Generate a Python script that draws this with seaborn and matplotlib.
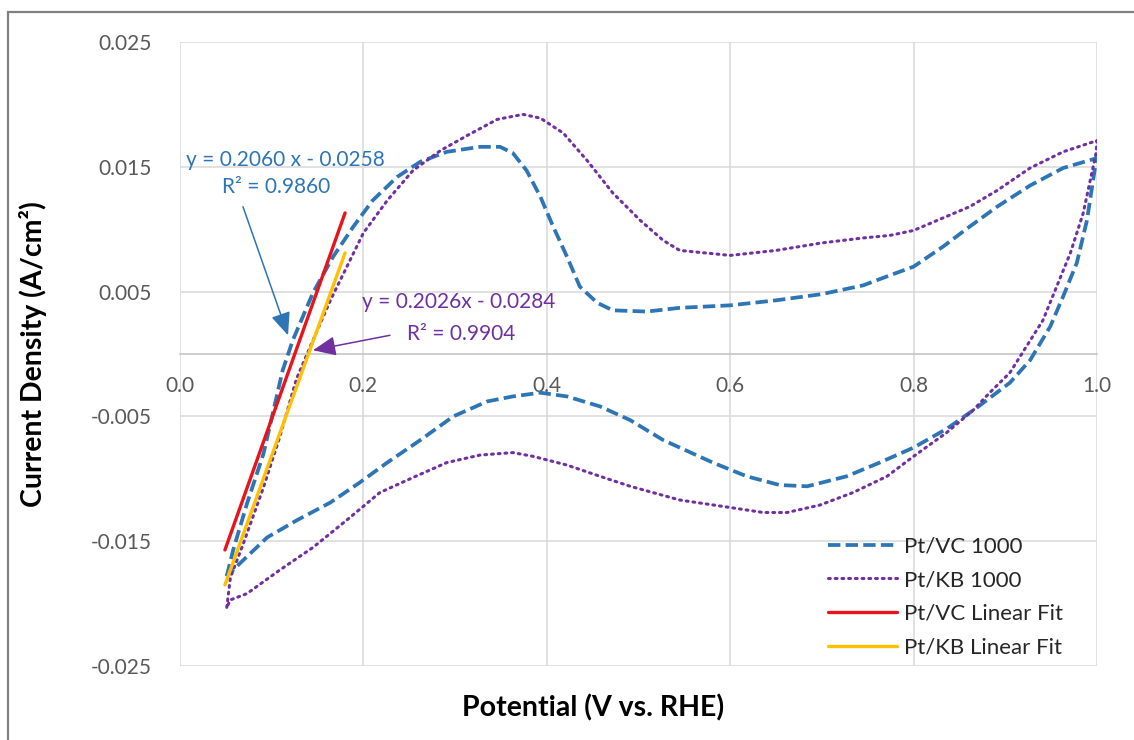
import numpy as np
import pandas as pd
import matplotlib as mpl
mpl.use("Agg")
import matplotlib.pyplot as plt
import seaborn as sns
from matplotlib.patches import Rectangle

# Pt/VC 1000 cycle (anodic sweep then cathodic sweep)
vc_x = [0.051, 0.058, 0.073, 0.091, 0.112, 0.123, 0.145, 0.167, 0.189, 0.21, 0.237, 0.262,
        0.291, 0.327, 0.349, 0.363, 0.378, 0.393, 0.407, 0.422, 0.436, 0.455, 0.472, 0.509,
        0.545, 0.60, 0.65, 0.70, 0.745, 0.774, 0.80, 0.832, 0.861, 0.891, 0.927, 0.963, 1.0,
        0.998, 0.989, 0.978, 0.963, 0.949, 0.927, 0.905, 0.869, 0.836, 0.80, 0.763, 0.727,
        0.684, 0.654, 0.618, 0.581, 0.527, 0.491, 0.458, 0.422, 0.393, 0.363, 0.335, 0.298,
        0.262, 0.226, 0.196, 0.164, 0.128, 0.095, 0.065, 0.051]
vc_y = [-0.0178, -0.0157, -0.0120, -0.0080, -0.0013, 0.0011, 0.0049, 0.0078, 0.0102, 0.0123,
        0.0142, 0.0154, 0.0162, 0.0166, 0.0166, 0.0161, 0.0147, 0.0126, 0.0102, 0.0078,
        0.0054, 0.0041, 0.0035, 0.0034, 0.0037, 0.0039, 0.0043, 0.0048, 0.0055, 0.0063,
        0.0070, 0.0086, 0.0102, 0.0118, 0.0135, 0.0149, 0.0157,
        0.0150, 0.0107, 0.0073, 0.0046, 0.0022, -0.0005, -0.0023, -0.0043, -0.0060, -0.0075,
        -0.0087, -0.0098, -0.0106, -0.0105, -0.0098, -0.0087, -0.0069, -0.0053, -0.0042,
        -0.0034, -0.0031, -0.0034, -0.0038, -0.0050, -0.0069, -0.0087, -0.0103, -0.0119,
        -0.0133, -0.0147, -0.0168, -0.0178]

# Pt/KB 1000 cycle
kb_x = [0.051, 0.055, 0.069, 0.091, 0.109, 0.127, 0.145, 0.164, 0.182, 0.20, 0.226, 0.254,
        0.284, 0.313, 0.346, 0.374, 0.393, 0.418, 0.444, 0.472, 0.502, 0.527, 0.545, 0.60,
        0.65, 0.70, 0.745, 0.774, 0.80, 0.832, 0.861, 0.891, 0.927, 0.963, 1.0,
        0.999, 0.985, 0.971, 0.956, 0.941, 0.923, 0.905, 0.883, 0.865, 0.836, 0.80, 0.771,
        0.734, 0.698, 0.662, 0.636, 0.60, 0.545, 0.491, 0.458, 0.422, 0.385, 0.363, 0.327,
        0.291, 0.254, 0.218, 0.182, 0.145, 0.109, 0.073, 0.055, 0.051]
kb_y = [-0.0203, -0.0179, -0.0152, -0.0107, -0.0066, -0.0020, 0.0011, 0.0043, 0.0070, 0.0097,
        0.0123, 0.0147, 0.0163, 0.0175, 0.0188, 0.0192, 0.0189, 0.0177, 0.0155, 0.0129,
        0.0107, 0.0091, 0.0083, 0.0079, 0.0083, 0.0089, 0.0093, 0.0095, 0.0099, 0.0109,
        0.0118, 0.0131, 0.0149, 0.0162, 0.0171,
        0.0161, 0.0113, 0.0081, 0.0054, 0.0027, 0.0006, -0.0015, -0.0031, -0.0045, -0.0063,
        -0.0082, -0.0098, -0.0111, -0.0121, -0.0127, -0.0127, -0.0123, -0.0117, -0.0106,
        -0.0098, -0.0089, -0.0082, -0.0079, -0.0081, -0.0087, -0.0099, -0.0111, -0.0133,
        -0.0155, -0.0173, -0.0192, -0.0197, -0.0203]

# linear fit segments
vcfit_x = [0.049, 0.180]
vcfit_y = [-0.0157, 0.0113]
kbfit_x = [0.049, 0.180]
kbfit_y = [-0.0185, 0.0081]

xticks = [0.0, 0.2, 0.4, 0.6, 0.8, 1.0]
yticks = [-0.025, -0.015, -0.005, 0.005, 0.015, 0.025]

vc_eq = ["y = 0.2060 x - 0.0258", "R² = 0.9860"]
kb_eq = ["y = 0.2026x - 0.0284", "R² = 0.9904"]

blue = "#2E75B6"
purple = "#7030A0"
red = "#E8141B"
gold = "#FFC000"
tickc = "#595959"

sns.set_theme(style="white")
plt.rcParams['font.family'] = ['Lato', 'DejaVu Sans']

fig = plt.figure(figsize=(11.34, 7.4), dpi=100)
ax = fig.add_axes([180/1134, 1-666/740, 917/1134, 624/740])

df_vc = pd.DataFrame({"x": vc_x, "y": vc_y})
df_kb = pd.DataFrame({"x": kb_x, "y": kb_y})
df_vcf = pd.DataFrame({"x": vcfit_x, "y": vcfit_y})
df_kbf = pd.DataFrame({"x": kbfit_x, "y": kbfit_y})

sns.lineplot(data=df_vc, x="x", y="y", sort=False, estimator=None, ax=ax, color=blue,
             lw=2.7, linestyle=(0, (3.3, 1.4)), label="Pt/VC 1000", zorder=3)
sns.lineplot(data=df_kb, x="x", y="y", sort=False, estimator=None, ax=ax, color=purple,
             lw=2.2, linestyle=(0, (0.6, 1.6)), dash_capstyle="round", label="Pt/KB 1000", zorder=3)
sns.lineplot(data=df_vcf, x="x", y="y", sort=False, estimator=None, ax=ax, color=red,
             lw=2.4, label="Pt/VC Linear Fit", zorder=4)
sns.lineplot(data=df_kbf, x="x", y="y", sort=False, estimator=None, ax=ax, color=gold,
             lw=2.4, label="Pt/KB Linear Fit", zorder=4)

ax.set_xlim(0, 1.0)
ax.set_ylim(-0.025, 0.025)
ax.set_xticks(xticks)
ax.set_xticklabels([f"{v:.1f}" for v in xticks])
ax.set_yticks(yticks)
ax.set_yticklabels([f"{v:.3f}" for v in yticks])
ax.grid(True, color="#d9d9d9", lw=1.1)
for s in ["top", "right", "left"]:
    ax.spines[s].set_visible(False)
ax.spines["bottom"].set_position(("data", 0))
ax.spines["bottom"].set_color("#c6c6c6")
ax.spines["bottom"].set_linewidth(1.2)
ax.spines["bottom"].set_zorder(2)
ax.tick_params(axis="x", length=0, pad=16, labelsize=15, labelcolor=tickc)
ax.tick_params(axis="y", length=0, pad=20, labelsize=15, labelcolor=tickc)

ax.set_xlabel("Potential (V vs. RHE)", fontsize=20.5, fontweight="bold", color="black")
ax.set_ylabel("Current Density (A/cm²)", fontsize=20.5, fontweight="bold", color="black")
ax.xaxis.label.set_va("center")
ax.yaxis.label.set_va("center")
ax.xaxis.set_label_coords((593-180)/917, (666-708)/624)
ax.yaxis.set_label_coords((33-180)/917, 0.5)

ax.text(0.1145, 0.01554, vc_eq[0], color=blue, fontsize=15, ha="center", va="center")
ax.text(0.1047, 0.01338, vc_eq[1], color=blue, fontsize=15, ha="center", va="center")
ax.text(0.3043, 0.00417, kb_eq[0], color=purple, fontsize=15, ha="center", va="center")
ax.text(0.3064, 0.00160, kb_eq[1], color=purple, fontsize=15, ha="center", va="center")
ax.annotate("", xy=(0.1178, 0.0015), xytext=(0.0687, 0.0118),
            arrowprops=dict(arrowstyle="-|>,head_length=0.7,head_width=0.3", color=blue,
                            lw=1.1, shrinkA=0, shrinkB=0, mutation_scale=20))
ax.annotate("", xy=(0.145, 0.0003), xytext=(0.229, 0.0015),
            arrowprops=dict(arrowstyle="-|>,head_length=0.7,head_width=0.3", color=purple,
                            lw=1.1, shrinkA=0, shrinkB=0, mutation_scale=20))

leg = ax.legend(loc="center left", bbox_to_anchor=((828-180)/917, (666-597)/624),
                frameon=False, fontsize=16, handlelength=3.1, handletextpad=0.3,
                labelspacing=0.62, borderpad=0, borderaxespad=0)
for t in leg.get_texts():
    t.set_color("#262626")

fig.patches.append(Rectangle((8/1134, -0.1), 1.2, 1-12/740+0.1, transform=fig.transFigure,
                             fill=False, edgecolor="#808080", lw=1.6))

fig.savefig("out.png", dpi=100)
